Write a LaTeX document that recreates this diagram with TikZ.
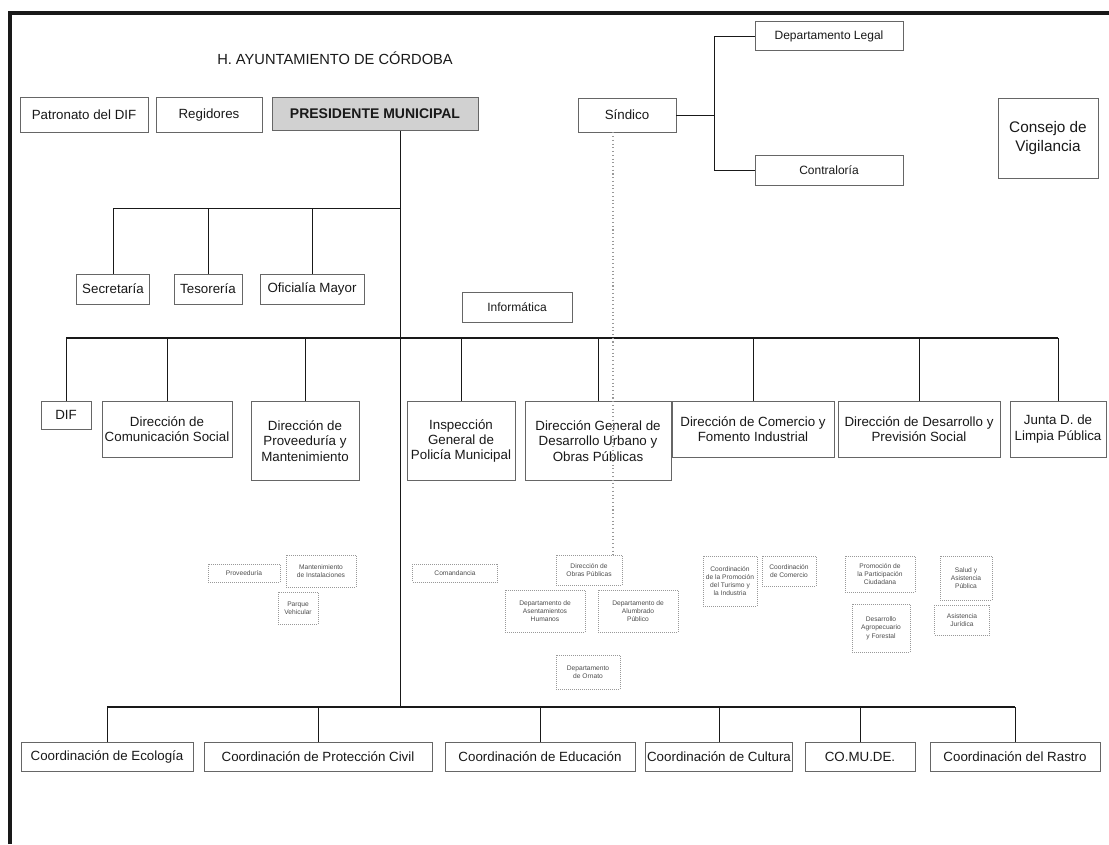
\documentclass[tikz,border=0pt]{standalone}
\usepackage{fontspec}
\setmainfont{Liberation Sans}
\usepackage{tikz}
\usetikzlibrary{positioning, calc}
\definecolor{mainBlack}{gray}{0.1}
\definecolor{subGray}{gray}{0.3}
\definecolor{borderGray}{gray}{0.4}
\definecolor{dotGray}{gray}{0.6}
\definecolor{headGray}{gray}{0.82}

\begin{document}
\begin{tikzpicture}[x=0.75pt, y=-0.75pt,
    unit/.style={draw=borderGray, line width=0.6pt, fill=white, inner sep=1pt, align=center,
                 font=\fontsize{10}{11.5}\selectfont, text=mainBlack},
    sub/.style={draw=dotGray, densely dotted, line width=0.5pt, inner sep=1pt, align=center,
                font=\fontsize{5}{6.2}\selectfont, text=subGray},
    wd/.style={minimum width=#1*0.75pt},
    ht/.style={minimum height=#1*0.75pt},
    link/.style={draw=mainBlack, line width=0.6pt},
    bus/.style={draw=mainBlack, line width=1.1pt},
    dotline/.style={draw=dotGray, dotted, line width=0.8pt}]
    \useasboundingbox (0,0) rectangle (1109,844);

    % Frame
    \draw[line width=3pt, mainBlack] (10,844) -- (10,13) -- (1109,13);

    % Title
    \node[font=\fontsize{11}{13}\selectfont, text=mainBlack] (title) at (335,58) {H. AYUNTAMIENTO DE CÓRDOBA};

    % Top row
    \node[unit, wd=128, ht=35] (patr) at (84,115) {Patronato del DIF};
    \node[unit, wd=106, ht=35] (regi) at (209,115) {Regidores};
    \node[unit, wd=206, ht=33, fill=headGray, font=\fontsize{10.5}{12}\selectfont\bfseries] (pres) at (375,114) {PRESIDENTE MUNICIPAL};
    \node[unit, wd=98, ht=34] (sind) at (627,115) {Síndico};
    \node[unit, wd=148, ht=29, font=\fontsize{9}{10.5}\selectfont] (legal) at (829,36) {Departamento Legal};
    \node[unit, wd=148, ht=30, font=\fontsize{9}{10.5}\selectfont] (contr) at (829,170) {Contraloría};
    \node[unit, wd=100, ht=80, font=\fontsize{11.5}{14}\selectfont] (cons) at (1048,138) {Consejo de\\Vigilancia};

    % Sindico branch
    \draw[link] (sind.east) -- ++(38,0) coordinate (sj);
    \draw[link] (legal.west) -| (sj) |- (contr.west);

    % Staff offices
    \coordinate (busA) at (400,208);
    \coordinate (busB) at (400,338);
    \coordinate (busC) at (400,707);
    \node[unit, wd=73, ht=30] (secr) at (113,289) {Secretaría};
    \node[unit, wd=68, ht=30] (teso) at (208,289) {Tesorería};
    \node[unit, wd=104, ht=30] (ofic) at (312,289) {Oficialía Mayor};
    \node[unit, wd=110, ht=30, font=\fontsize{9}{10.5}\selectfont] (info) at (517,307) {Informática};

    % Directions
    \node[unit, wd=50, ht=28] (dif) at (66,415) {DIF};
    \node[unit, wd=130, ht=56] (comu) at (167,429) {Dirección de\\Comunicación Social};
    \node[unit, wd=108, ht=79] (prov) at (305,441) {Dirección de\\Proveeduría y\\Mantenimiento};
    \node[unit, wd=108, ht=79] (insp) at (461,441) {Inspección\\General de\\Policía Municipal};
    \node[unit, wd=146, ht=79] (dgdu) at (598,441) {Dirección General de\\Desarrollo Urbano y\\Obras Públicas};
    \node[unit, wd=162, ht=56] (come) at (753,429) {Dirección de Comercio y\\Fomento Industrial};
    \node[unit, wd=162, ht=56] (prev) at (919,429) {Dirección de Desarrollo y\\Previsión Social};
    \node[unit, wd=96, ht=56] (junta) at (1058,429) {Junta D. de\\Limpia Pública};

    % Departments
    \node[sub, wd=72, ht=18] (provd) at (244,573) {Proveeduría};
    \node[sub, wd=70, ht=32] (mant) at (321,571) {Mantenimiento\\de Instalaciones};
    \node[sub, wd=40, ht=32] (parq) at (298,608) {Parque\\Vehicular};
    \node[sub, wd=85, ht=18] (coma) at (455,573) {Comandancia};
    \node[sub, wd=66, ht=30] (obras) at (589,570) {Dirección de\\Obras Públicas};
    \node[sub, wd=80, ht=42] (asen) at (545,611) {Departamento de\\Asentamientos\\Humanos};
    \node[sub, wd=80, ht=42] (alum) at (638,611) {Departamento de\\Alumbrado\\Público};
    \node[sub, wd=54, ht=50] (turi) at (730,581) {Coordinación\\de la Promoción\\del Turismo y\\la Industria};
    \node[sub, wd=54, ht=30] (ccom) at (789,571) {Coordinación\\de Comercio};
    \node[sub, wd=70, ht=36] (part) at (880,574) {Promoción de\\la Participación\\Ciudadana};
    \node[sub, wd=52, ht=44] (salud) at (966,578) {Salud y\\Asistencia\\Pública};
    \node[sub, wd=58, ht=48] (agro) at (881,628) {Desarrollo\\Agropecuario\\y Forestal};
    \node[sub, wd=55, ht=30] (jur) at (962,620) {Asistencia\\Jurídica};
    \node[sub, wd=64, ht=34] (orna) at (588,672) {Departamento\\de Ornato};

    % Coordinations
    \node[unit, wd=172, ht=29] (ecol) at (107,757) {Coordinación de Ecología};
    \node[unit, wd=228, ht=29] (civil) at (318,757) {Coordinación de Protección Civil};
    \node[unit, wd=190, ht=29] (educ) at (540,757) {Coordinación de Educación};
    \node[unit, wd=142, ht=29] (cult) at (719,757) {Coordinación de Cultura};
    \node[unit, wd=110, ht=29] (cmde) at (860,757) {CO.MU.DE.};
    \node[unit, wd=170, ht=29] (rast) at (1015,757) {Coordinación del Rastro};

    % Main line and branches
    \draw[link] (pres.south -| busC) -- (busC);
    \foreach \n in {secr, teso, ofic}
        \draw[link] (\n.north) |- (busA);
    \draw[bus] (dif.north |- busB) -- (junta.north |- busB);
    \foreach \n in {dif, comu, prov, insp, dgdu, come, prev, junta}
        \draw[link] (\n.north) -- (\n.north |- busB);
    \draw[bus] (ecol.north |- busC) -- (rast.north |- busC);
    \foreach \n in {ecol, civil, educ, cult, cmde, rast}
        \draw[link] (\n.north) -- (\n.north |- busC);

    % Dotted line from Sindico
    \draw[dotline] (sind.south -| 613,0) -- (obras.north -| 613,0);
\end{tikzpicture}
\end{document}
